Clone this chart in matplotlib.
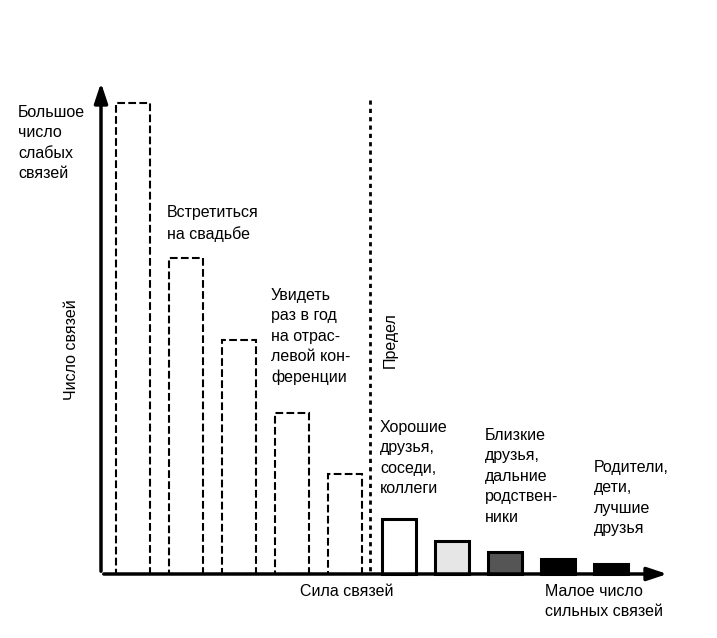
import matplotlib
matplotlib.use("Agg")
import matplotlib.pyplot as plt

heights = [471, 316, 234, 161, 100, 55, 33, 22, 15, 10]
styles = ["dash"]*5 + ["white", "light", "dark", "black", "black"]
labels = [
    (18, 105, "Большое\nчисло\nслабых\nсвязей"),
    (167, 205, "Встретиться\nна свадьбе"),
    (271, 288, "Увидеть\nраз в год\nна отрас-\nлевой кон-\nференции"),
    (380, 420, "Хорошие\nдрузья,\nсоседи,\nколлеги"),
    (485, 428, "Близкие\nдрузья,\nдальние\nродствен-\nники"),
    (594, 460, "Родители,\nдети,\nлучшие\nдрузья"),
]

W, H = 717, 638
fig = plt.figure(figsize=(W/100, H/100), dpi=100)
ax = fig.add_axes([0, 0, 1, 1])
ax.set_xlim(0, W); ax.set_ylim(H, 0); ax.axis("off")
plt.rcParams["font.family"] = "Liberation Sans"
base = 574
xs = [133 + 53.1*i for i in range(len(heights))]
fills = {"dash": "white", "white": "white", "light": "#e6e6e6", "dark": "#555555", "black": "black"}
for x, h, s in zip(xs, heights, styles):
    ax.bar(x, -h, bottom=base, width=34, facecolor=fills[s], edgecolor="black",
           linewidth=1.5 if s == "dash" else 2.2, linestyle="--" if s == "dash" else "-")
ax.annotate("", xy=(101, 80), xytext=(101, base), arrowprops=dict(arrowstyle="-|>,head_length=1.2,head_width=0.4", color="black", lw=2.5))
ax.annotate("", xy=(670, base), xytext=(101, base), arrowprops=dict(arrowstyle="-|>,head_length=1.2,head_width=0.4", color="black", lw=2.5))
ax.plot([370, 370], [100, base], color="black", lw=2, linestyle=(0, (1.5, 1.5)))
for x, y, t in labels:
    ax.text(x, y, t, fontsize=11.5, va="top", ha="left", linespacing=1.45)
ax.text(72, 350, "Число связей", rotation=90, fontsize=11.5, ha="center", va="center")
ax.text(390, 340, "Предел", rotation=90, fontsize=11.5, ha="center", va="center")
ax.text(300, 584, "Сила связей", fontsize=11.5, va="top")
ax.text(545, 584, "Малое число\nсильных связей", fontsize=11.5, va="top", linespacing=1.45)
fig.savefig("out.png", dpi=100)
